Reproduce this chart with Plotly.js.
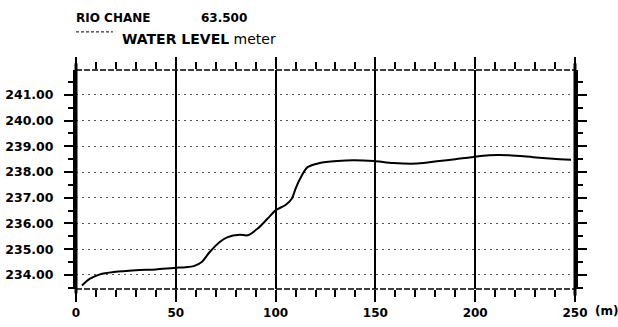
<!DOCTYPE html>
<html>
<head>
<meta charset="utf-8">
<script src="https://cdn.plot.ly/plotly-3.0.1.min.js"></script>
<style>html,body{margin:0;padding:0;background:#fff}#chart{width:618px;height:327px}</style>
</head>
<body>
<div id="chart"></div>
<script>
// Data
const distance = [3, 7, 12, 19, 30, 40, 49, 55, 59, 63, 67, 72, 76, 82, 86, 91, 96, 100, 105, 108, 110, 112, 116, 122, 131, 139, 149, 159, 171, 182, 190, 198, 207, 217, 229, 239, 248];
const waterLevel = [233.59, 233.85, 234.02, 234.11, 234.18, 234.21, 234.27, 234.30, 234.34, 234.50, 234.89, 235.28, 235.47, 235.56, 235.54, 235.80, 236.19, 236.51, 236.72, 236.95, 237.35, 237.70, 238.19, 238.35, 238.43, 238.46, 238.43, 238.35, 238.33, 238.43, 238.50, 238.58, 238.65, 238.65, 238.58, 238.52, 238.48];
const xTicks = [0, 50, 100, 150, 200, 250];
const xTickLabels = ['0', '50', '100', '150', '200', '250'];
const yTicks = [234, 235, 236, 237, 238, 239, 240, 241];
const stationName = 'RIO CHANE';
const stationKm = '63.500';
const seriesName = 'WATER LEVEL';
const seriesUnit = 'meter';

const F = 'DejaVu Sans, Liberation Sans, sans-serif';

const trace = {
  x: distance, y: waterLevel, type: 'scatter', mode: 'lines',
  line: {color: '#000', width: 2, shape: 'spline', smoothing: 0.8},
  hoverinfo: 'skip', showlegend: false
};

const layout = {
  width: 618, height: 327,
  margin: {l: 76, r: 43, t: 70, b: 38},
  paper_bgcolor: '#fff', plot_bgcolor: '#fff',
  font: {family: F, color: '#000', size: 12},
  xaxis: {
    range: [0, 250], tickvals: xTicks, ticktext: xTickLabels,
    ticks: 'outside', ticklen: 12, tickwidth: 2, tickcolor: '#000',
    showgrid: true, gridcolor: '#000', gridwidth: 2,
    showline: false, zeroline: false, mirror: 'ticks',
    tickfont: {family: F, size: 12, weight: 'bold'},
    ticklabelstandoff: 1,
    minor: {dtick: 10, ticks: 'outside', ticklen: 7, tickwidth: 2, tickcolor: '#000', showgrid: false}
  },
  yaxis: {
    range: [233.45, 241.97], tickvals: yTicks, tickformat: '.2f',
    ticks: 'outside', ticklen: 9, tickwidth: 2, tickcolor: '#000',
    showgrid: true, gridcolor: '#555', gridwidth: 1, griddash: '2px,4px',
    showline: true, linecolor: '#000', linewidth: 3, zeroline: false, mirror: 'ticks',
    tickfont: {family: F, size: 12.5, weight: 'bold'},
    ticklabelstandoff: 8,
    minor: {dtick: 0.5, ticks: 'outside', ticklen: 5, tickwidth: 2, tickcolor: '#000', showgrid: false}
  },
  shapes: [
    {type: 'line', xref: 'paper', yref: 'paper', x0: 0, x1: 1, y0: 1, y1: 1, line: {color: '#000', width: 1.5, dash: '6px,2px'}},
    {type: 'line', xref: 'paper', yref: 'paper', x0: 0, x1: 1, y0: 0, y1: 0, line: {color: '#000', width: 1.5, dash: '6px,2px'}},
    {type: 'line', xref: 'paper', yref: 'paper', x0: 0, x1: 0, y0: -0.02, y1: 1.03, line: {color: '#000', width: 3}},
    {type: 'line', xref: 'paper', yref: 'paper', x0: 1, x1: 1, y0: -0.03, y1: 1.03, line: {color: '#000', width: 3}},
    {type: 'line', xref: 'paper', yref: 'paper', x0: 0.0, x1: 0.074, y0: 1.174, y1: 1.174, line: {color: '#000', width: 1, dash: '3px,2px'}}
  ],
  annotations: [
    {xref: 'paper', yref: 'paper', x: -0.004, y: 1.238, xanchor: 'left', yanchor: 'middle', showarrow: false,
     text: '<b>' + stationName + '</b>', font: {family: F, size: 12}},
    {xref: 'paper', yref: 'paper', x: 0.246, y: 1.238, xanchor: 'left', yanchor: 'middle', showarrow: false,
     text: '<b>' + stationKm + '</b>', font: {family: F, size: 12}},
    {xref: 'paper', yref: 'paper', x: 0.088, y: 1.142, xanchor: 'left', yanchor: 'middle', showarrow: false,
     text: '<b>' + seriesName + '</b> ' + seriesUnit, font: {family: F, size: 14}},
    {xref: 'paper', yref: 'paper', x: 1.037, y: -0.1, xanchor: 'left', yanchor: 'middle', showarrow: false,
     text: '<b>(m)</b>', font: {family: F, size: 12}}
  ]
};

Plotly.newPlot('chart', [trace], layout, {staticPlot: true, displayModeBar: false});
</script>
</body>
</html>
